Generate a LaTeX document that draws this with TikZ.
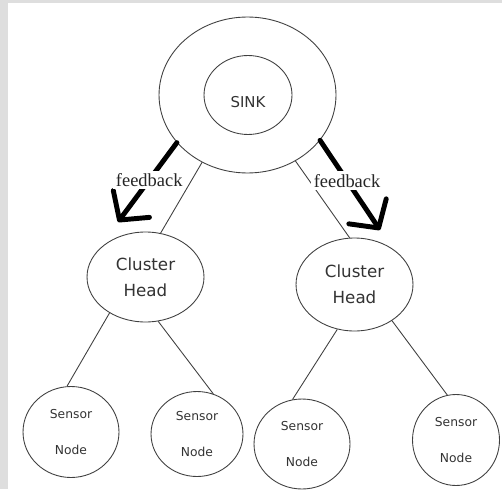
\documentclass[tikz,border=0pt]{standalone}
\usepackage{fontspec}
\usepackage{tikz}
\usetikzlibrary{arrows.meta}
\usetikzlibrary{shapes,shapes.geometric}
\newfontfamily\sanslabel{DejaVu Sans}
\newfontfamily\seriflabel{Liberation Serif}
\tikzset{
  ring/.style={draw=black!75, line width=0.5pt, ellipse, inner sep=0pt},
  headnode/.style={ring, align=center, text=black!80, font=\sanslabel\fontsize{9.5pt}{15pt}\selectfont},
  sensornode/.style={ring, align=center, text=black!80, font=\sanslabel\fontsize{7pt}{21pt}\selectfont},
  link/.style={draw=black!75, line width=0.5pt},
  fbarrow/.style={line width=2.8pt, line cap=round, -{Straight Barb[length=4mm,width=9mm,round]}},
  fblabel/.style={fill=white, inner sep=1.5pt, text=black!85, font=\seriflabel\fontsize{10.5pt}{12pt}\selectfont}
}

\begin{document}
\begin{tikzpicture}[x=0.02cm, y=-0.02cm]
  \useasboundingbox (0,0) rectangle (502,489);
  \fill[black!13] (0,0) rectangle (502,489);
  \fill[white] (8,3) rectangle (502,489);
  % sink
  \node[ring, minimum width=3.54cm, minimum height=3.12cm] (sinkring) at (247.5,95) {};
  \node[ring, minimum width=1.76cm, minimum height=1.58cm, text=black!80,
    font=\sanslabel\fontsize{8.5pt}{10pt}\selectfont, text height=14pt, text depth=0pt] (sink) at (248,95) {SINK};
  % cluster heads
  \node[headnode, minimum width=2.34cm, minimum height=1.8cm] (chleft) at (145.5,277) {Cluster\\Head};
  \node[headnode, minimum width=2.34cm, minimum height=1.86cm] (chright) at (354.5,284.5) {Cluster\\Head};
  % sensor nodes
  \node[sensornode, minimum width=1.92cm, minimum height=1.82cm] (snA) at (71,432) {Sensor\\Node};
  \node[sensornode, minimum width=1.84cm, minimum height=1.7cm] (snB) at (197,434) {Sensor\\Node};
  \node[sensornode, minimum width=1.92cm, minimum height=1.8cm] (snC) at (302,444) {Sensor\\Node};
  \node[sensornode, minimum width=1.74cm, minimum height=1.82cm] (snD) at (456,440) {Sensor\\Node};
  % links
  \draw[link] (sinkring.-124) -- (chleft.71);
  \draw[link] (sinkring.-54) -- (chright.96);
  \draw[link] (chleft.-135) -- (snA.95);
  \draw[link] (chleft.-74) -- (snB.68);
  \draw[link] (chright.-111) -- (snC.102);
  \draw[link] (chright.-44) -- (snD.101);
  % feedback
  \coordinate (fbleft) at (118,222);
  \coordinate (fbright) at (380,230);
  \draw[fbarrow] (sinkring.-146) -- node[fblabel, pos=0.47] (fbtextleft) {feedback} (fbleft);
  \draw[fbarrow] (sinkring.-32) -- node[fblabel, pos=0.45] (fbtextright) {feedback} (fbright);
\end{tikzpicture}
\end{document}
